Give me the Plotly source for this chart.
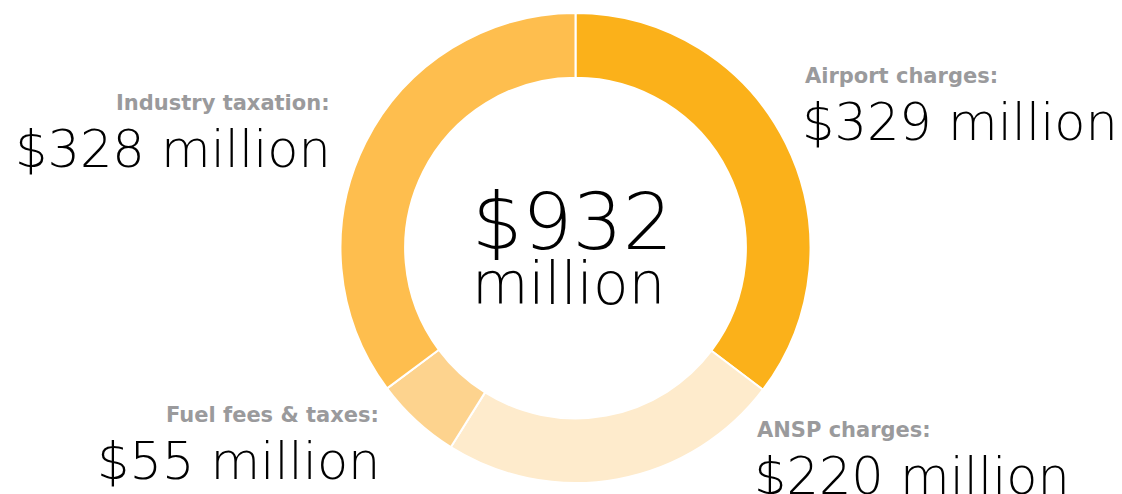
import plotly.graph_objects as go

labels = ["Airport charges", "ANSP charges", "Fuel fees & taxes", "Industry taxation"]
values = [329, 220, 55, 328]
colors = ["#FBB11A", "#FEEBCC", "#FDD38E", "#FEBE4E"]
total = 932

W, H = 1122, 494
OFF = 8  # page body margin shifts the figure
cx, cy, r = 575.5 - OFF, 248 - OFF, 235


def px(x, y):
    return (x - OFF) / W, 1 - (y - OFF) / H


fig = go.Figure(go.Pie(
    labels=labels, values=values, hole=0.725, sort=False, direction="clockwise",
    rotation=0, marker=dict(colors=colors, line=dict(color="white", width=2)),
    textinfo="none", hoverinfo="label+value", showlegend=False,
    domain=dict(x=[(cx - r) / W, (cx + r) / W], y=[(H - cy - r) / H, (H - cy + r) / H]),
))

FONT = "DejaVu Sans"
GREY = "#9A9A9C"

# (label, value, x px, y px of grey line, anchor)
callouts = [
    (labels[0], values[0], 803, 76, "left"),
    (labels[1], values[1], 755, 430, "left"),
    (labels[2], values[2], 381, 415, "right"),
    (labels[3], values[3], 332, 103, "right"),
]
for name, val, x, y, anchor in callouts:
    ax, ay = px(x, y)
    fig.add_annotation(x=ax, y=ay, xref="paper", yref="paper", xanchor=anchor,
                       yanchor="middle", showarrow=False, text=f"{name}:",
                       font=dict(family=FONT, size=21, color=GREY, weight="bold"))
    bx, by = px(x - 3 if anchor == "left" else x + 1, y + 46)
    fig.add_annotation(x=bx, y=by, xref="paper", yref="paper", xanchor=anchor,
                       yanchor="middle", showarrow=False, text=f"${val} million",
                       font=dict(family=FONT, size=51, color="black", weight=200))

tx, ty = px(572, 222)
fig.add_annotation(x=tx, y=ty, xref="paper", yref="paper", showarrow=False,
                   text=f"${total}", font=dict(family=FONT, size=79, color="black", weight=200))
mx, my = px(568, 284)
fig.add_annotation(x=mx, y=my, xref="paper", yref="paper", showarrow=False,
                   text="million", font=dict(family=FONT, size=58, color="black", weight=200))

fig.update_layout(width=W, height=H, margin=dict(l=0, r=0, t=0, b=0),
                  paper_bgcolor="white", plot_bgcolor="white")
fig.write_html("out.html")
